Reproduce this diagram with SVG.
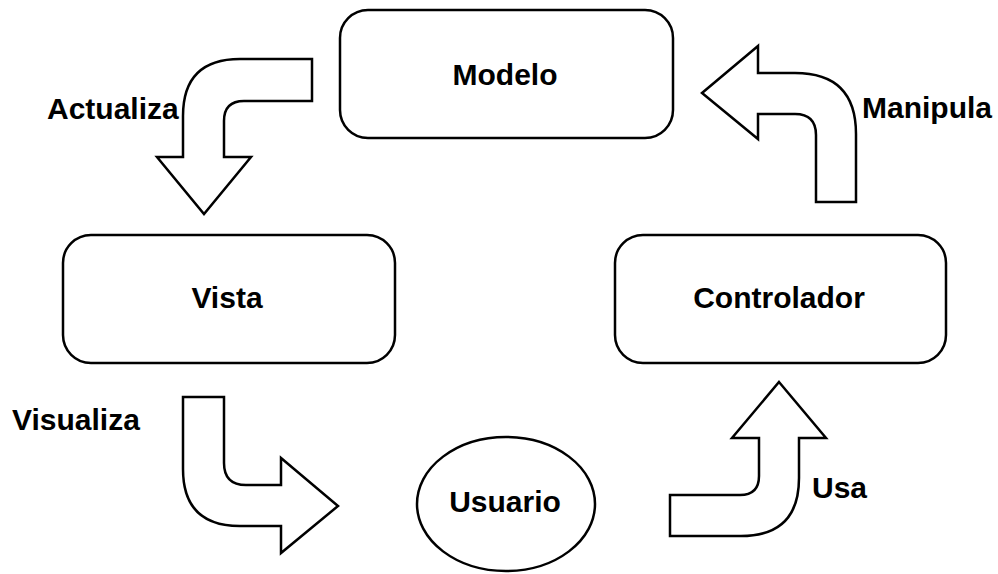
<svg xmlns="http://www.w3.org/2000/svg" width="998" height="574" viewBox="0 0 998 574">
<style>
.box{fill:#fff;stroke:#000;stroke-width:2.5}
.arr{fill:#fff;stroke:#000;stroke-width:2.5;stroke-linejoin:miter}
.t{font-family:"Liberation Sans",Arial,Helvetica,sans-serif;font-weight:bold;font-size:30px;fill:#000}
.c{text-anchor:middle}
</style>
<rect width="998" height="574" fill="#fff"/>
<g id="modelo">
<rect class="box" x="340" y="10" width="333" height="128" rx="28" ry="28"/>
<text class="t c" x="505" y="85">Modelo</text>
</g>
<g id="vista">
<rect class="box" x="63" y="235" width="332" height="128" rx="28" ry="28"/>
<text class="t c" x="227" y="308">Vista</text>
</g>
<g id="controlador">
<rect class="box" x="615" y="235" width="331" height="128" rx="28" ry="28"/>
<text class="t c" x="779" y="308">Controlador</text>
</g>
<g id="usuario">
<ellipse class="box" cx="506" cy="504" rx="89" ry="67"/>
<text class="t c" x="505" y="512">Usuario</text>
</g>
<g id="connectors">
<g id="actualiza">
<path class="arr" d="M312,59 L240,59 Q183,59 183,116 L183,157 L157,157 L204,214 L251,157 L224,157 L224,121 Q224,101 244,101 L312,101 Z"/>
<text class="t" x="47" y="119">Actualiza</text>
</g>
<g id="manipula">
<path class="arr" d="M702,93 L758,46 L758,73 L795,73 Q856,73 856,134 L856,202 L816,202 L816,135 Q816,114 795,114 L758,114 L758,139 Z"/>
<text class="t" x="862" y="118">Manipula</text>
</g>
<g id="visualiza">
<path class="arr" d="M183,397 L224,397 L224,463 Q224,485 246,485 L281,485 L281,458 L338,506 L281,553 L281,526 L240,526 Q183,526 183,469 Z"/>
<text class="t" x="12" y="430">Visualiza</text>
</g>
<g id="usa">
<path class="arr" d="M779,382 L826,438 L799,438 L799,478 Q799,536 741,536 L670,536 L670,495 L740,495 Q759,495 759,476 L759,438 L732,438 Z"/>
<text class="t" x="812" y="498">Usa</text>
</g>
</g>
</svg>
